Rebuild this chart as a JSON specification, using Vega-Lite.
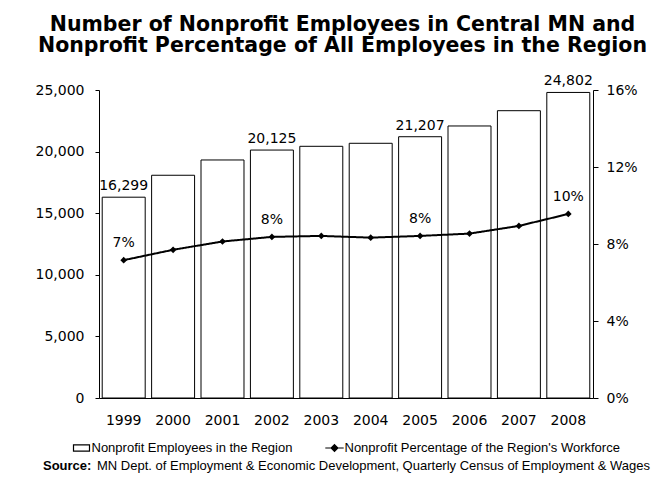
{
  "$schema": "https://vega.github.io/schema/vega-lite/v6.json",
  "background": "white",
  "padding": {"left": 35, "top": 15, "right": 10, "bottom": 4},
  "title": {
    "text": ["Number of Nonprofit Employees in Central MN and", "Nonprofit Percentage of All Employees in the Region"],
    "font": "DejaVu Sans",
    "fontSize": 20.5,
    "fontWeight": "bold",
    "lineHeight": 20.5,
    "color": "black",
    "anchor": "middle",
    "offset": 18
  },
  "config": {
    "view": {"stroke": null},
    "axis": {
      "labelColor": "black",
      "domainColor": "black",
      "tickColor": "black",
      "labelFont": "DejaVu Sans",
      "labelFontSize": 14,
      "grid": false,
      "title": null
    },
    "legend": {
      "layout": {"bottom": {"direction": "vertical", "anchor": "middle", "center": true, "margin": 4}}
    },
    "text": {"font": "DejaVu Sans", "fontSize": 14, "color": "black"}
  },
  "vconcat": [
    {
      "width": 494,
      "height": 308,
      "data": {
        "values": [
          {"year": "1999", "employees": 16299, "pct": 0.0716},
          {"year": "2000", "employees": 18080, "pct": 0.0770},
          {"year": "2001", "employees": 19320, "pct": 0.0813},
          {"year": "2002", "employees": 20125, "pct": 0.0837},
          {"year": "2003", "employees": 20430, "pct": 0.0842},
          {"year": "2004", "employees": 20675, "pct": 0.0833},
          {"year": "2005", "employees": 21207, "pct": 0.0842},
          {"year": "2006", "employees": 22080, "pct": 0.0854},
          {"year": "2007", "employees": 23320, "pct": 0.0894},
          {"year": "2008", "employees": 24802, "pct": 0.0956}
        ]
      },
      "encoding": {
        "x": {
          "field": "year",
          "type": "ordinal",
          "scale": {"paddingInner": 0.13, "paddingOuter": 0.065},
          "axis": {"labelAngle": 0, "ticks": false, "tickSize": 0, "labelPadding": 15}
        }
      },
      "layer": [
        {
          "encoding": {
            "y": {
              "field": "employees",
              "type": "quantitative",
              "scale": {"domain": [0, 25000], "nice": false},
              "axis": {"values": [0, 5000, 10000, 15000, 20000, 25000], "format": ",d", "tickSize": 4, "labelPadding": 11}
            }
          },
          "layer": [
            {
              "mark": {"type": "bar", "strokeWidth": 1},
              "encoding": {
                "fill": {
                  "datum": "Nonprofit Employees in the Region",
                  "type": "nominal",
                  "scale": {
                    "domain": ["Nonprofit Employees in the Region", "Nonprofit Percentage of the Region's Workforce"],
                    "range": ["white", "black"]
                  },
                  "legend": {
                    "title": null,
                    "orient": "bottom",
                    "direction": "horizontal",
                    "labelFont": "Liberation Sans",
                    "labelFontSize": 13,
                    "labelColor": "black",
                    "labelLimit": 0,
                    "labelOffset": 1,
                    "columnPadding": 30,
                    "symbolSize": 256,
                    "symbolStrokeWidth": 1.2,
                    "symbolOpacity": 1,
                    "offset": 12
                  }
                },
                "stroke": {
                  "datum": "Nonprofit Employees in the Region",
                  "type": "nominal",
                  "scale": {
                    "domain": ["Nonprofit Employees in the Region", "Nonprofit Percentage of the Region's Workforce"],
                    "range": ["black", "black"]
                  },
                  "legend": {
                    "title": null,
                    "orient": "bottom",
                    "direction": "horizontal",
                    "labelFont": "Liberation Sans",
                    "labelFontSize": 13,
                    "labelColor": "black",
                    "labelLimit": 0,
                    "labelOffset": 1,
                    "columnPadding": 30,
                    "symbolSize": 256,
                    "symbolStrokeWidth": 1.2,
                    "symbolOpacity": 1,
                    "offset": 12
                  }
                }
              }
            },
            {
              "transform": [{"filter": "indexof(['1999','2002','2005','2008'], datum.year) >= 0"}],
              "mark": {"type": "text", "baseline": "alphabetic", "dy": -7},
              "encoding": {"text": {"field": "employees", "type": "quantitative", "format": ",d"}}
            }
          ]
        },
        {
          "encoding": {
            "y": {
              "field": "pct",
              "type": "quantitative",
              "scale": {"domain": [0, 0.16], "nice": false},
              "axis": {"orient": "right", "values": [0, 0.04, 0.08, 0.12, 0.16], "format": ".0%", "tickSize": 5, "labelPadding": 8}
            }
          },
          "layer": [
            {
              "mark": {"type": "line", "strokeWidth": 2},
              "encoding": {
                "stroke": {"datum": "Nonprofit Percentage of the Region's Workforce", "type": "nominal"},
                "strokeDash": {
                  "datum": "MN Dept. of Employment & Economic Development, Quarterly Census of Employment & Wages",
                  "type": "nominal",
                  "scale": {"range": [[1, 0]]},
                  "legend": {
                    "title": "Source:",
                    "titleOrient": "left",
                    "titleFont": "Liberation Sans",
                    "titleFontWeight": "bold",
                    "titleFontSize": 13,
                    "titleColor": "black",
                    "titlePadding": 4,
                    "orient": "bottom",
                    "labelFont": "Liberation Sans",
                    "labelFontSize": 13,
                    "labelColor": "black",
                    "labelLimit": 0,
                    "labelOffset": -12,
                    "symbolSize": 0,
                    "symbolOpacity": 0,
                    "symbolStrokeWidth": 0
                  }
                }
              }
            },
            {
              "mark": {"type": "point", "filled": true, "color": "black", "shape": "diamond", "size": 45, "opacity": 1}
            },
            {
              "mark": {"type": "point", "filled": true, "opacity": 0, "size": 0},
              "encoding": {
                "shape": {
                  "datum": "Nonprofit Percentage of the Region's Workforce",
                  "type": "nominal",
                  "scale": {
                    "domain": ["Nonprofit Employees in the Region", "Nonprofit Percentage of the Region's Workforce"],
                    "range": ["M-1,-0.38H1V0.38H-1Z", "M-1.15,0H1.15M0,-0.42L0.42,0L0,0.42L-0.42,0Z"]
                  },
                  "legend": {
                    "title": null,
                    "orient": "bottom",
                    "direction": "horizontal",
                    "labelFont": "Liberation Sans",
                    "labelFontSize": 13,
                    "labelColor": "black",
                    "labelLimit": 0,
                    "labelOffset": 1,
                    "columnPadding": 30,
                    "symbolSize": 256,
                    "symbolStrokeWidth": 1.2,
                    "symbolOpacity": 1,
                    "offset": 12
                  }
                }
              }
            },
            {
              "transform": [{"filter": "indexof(['1999','2002','2005','2008'], datum.year) >= 0"}],
              "mark": {"type": "text", "baseline": "middle", "dy": -17},
              "encoding": {"text": {"field": "pct", "type": "quantitative", "format": ".0%"}}
            }
          ]
        }
      ],
      "resolve": {"scale": {"y": "independent"}}
    }
  ]
}
